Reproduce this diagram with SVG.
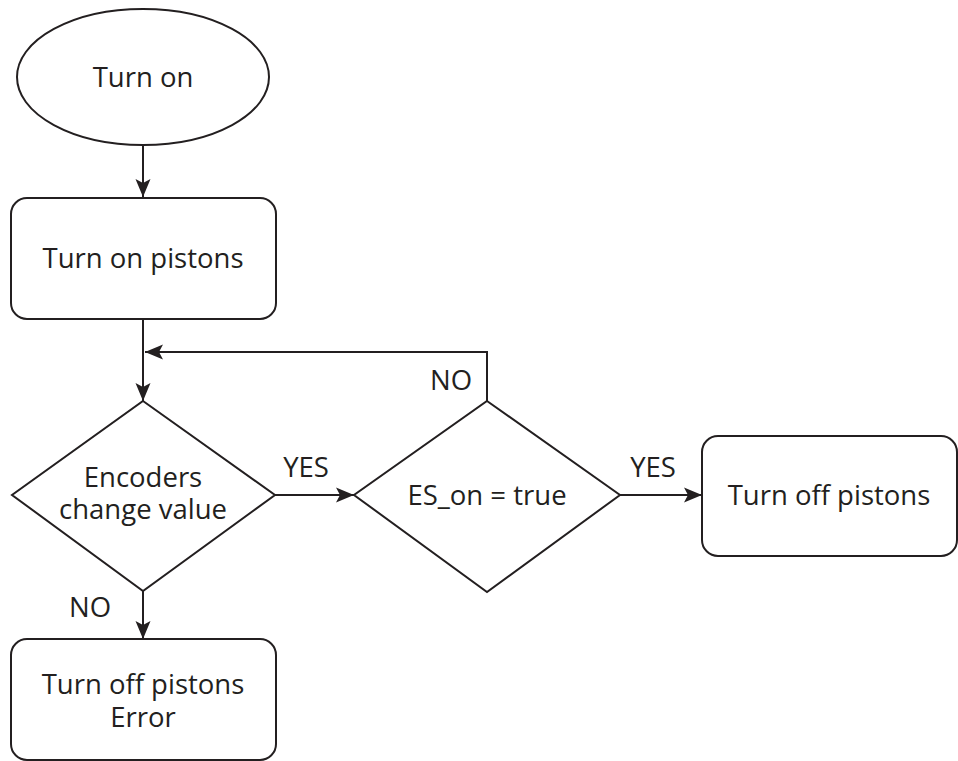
<svg xmlns="http://www.w3.org/2000/svg" width="958" height="761" viewBox="0 0 958 761">
<style>
.s{fill:#fff;stroke:#231f20;stroke-width:2}
.c{fill:none;stroke:#231f20;stroke-width:2}
text{font-family:"Open Sans","Noto Sans","Liberation Sans",sans-serif;font-size:27.5px;fill:#231f20;text-anchor:middle}
</style>
<defs>
<marker id="ah" markerUnits="userSpaceOnUse" viewBox="0 -8 18 16" markerWidth="18" markerHeight="16" refX="18" refY="0" orient="auto">
<path d="M0,-7.5 L18,0 L0,7.5 L4,0 Z" fill="#231f20"/>
</marker>
</defs>
<g id="connectors">
<line class="c" x1="143" y1="146" x2="143" y2="197" marker-end="url(#ah)"/>
<line class="c" x1="143" y1="319" x2="143" y2="401" marker-end="url(#ah)"/>
<polyline class="c" points="487,401 487,352 145,352" marker-end="url(#ah)"/>
<line class="c" x1="275" y1="495" x2="354" y2="495" marker-end="url(#ah)"/>
<line class="c" x1="620" y1="495" x2="702" y2="495" marker-end="url(#ah)"/>
<line class="c" x1="143" y1="591" x2="143" y2="639" marker-end="url(#ah)"/>
<text x="306" y="477">YES</text>
<text x="653" y="477">YES</text>
<text x="451" y="390">NO</text>
<text x="90" y="617">NO</text>
</g>
<g id="start">
<ellipse class="s" cx="143" cy="77" rx="126" ry="68"/>
<text x="143" y="87">Turn on</text>
</g>
<g id="pistons-on">
<rect class="s" x="11" y="198" width="265" height="121" rx="16"/>
<text x="143" y="268">Turn on pistons</text>
</g>
<g id="encoders">
<polygon class="s" points="143,401 275,495 143,591 12,495"/>
<text x="143" y="487">Encoders</text>
<text x="143" y="519">change value</text>
</g>
<g id="es-on">
<polygon class="s" points="487,401 620,495 487,592 354,495"/>
<text x="487" y="505">ES_on = true</text>
</g>
<g id="pistons-off">
<rect class="s" x="702" y="436" width="255" height="120" rx="16"/>
<text x="829" y="505">Turn off pistons</text>
</g>
<g id="error">
<rect class="s" x="11" y="639" width="265" height="121" rx="16"/>
<text x="143" y="694">Turn off pistons</text>
<text x="143" y="727">Error</text>
</g>
</svg>
